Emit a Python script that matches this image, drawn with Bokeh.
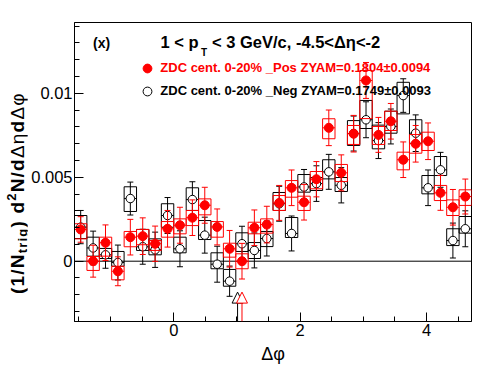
import math
from bokeh.plotting import figure
from bokeh.layouts import row
from bokeh.models import (ColumnDataSource, Span, Label, Legend, LegendItem, FixedTicker,
                          CustomJSTickFormatter, Range1d, Arrow, NormalHead, Div)
from bokeh.embed import file_html
from bokeh.resources import INLINE

# ---------------- data ----------------
dphi = [-1.473, -1.276, -1.080, -0.884, -0.687, -0.491, -0.295, -0.098,
        0.098, 0.295, 0.491, 0.687, 0.884, 1.080, 1.276, 1.473,
        1.669, 1.865, 2.062, 2.258, 2.454, 2.651, 2.847, 3.043,
        3.240, 3.436, 3.632, 3.829, 4.025, 4.222, 4.418, 4.614]

pos_y = [0.00189, 0.00000, 0.00110, -0.00060, 0.00143, 0.00149, 0.00104, 0.00193,
         0.00214, 0.00259, 0.00333, 0.00204, 0.00074, 0.00000, 0.00199, 0.00218,
         0.00347, 0.00437, 0.00351, 0.00488, 0.00794, 0.00526, 0.00759, 0.01076,
         0.00752, 0.00833, 0.00604, 0.00699, 0.00714, 0.00407, 0.00321, 0.00385]
pos_stat = [0.00076, 0.00095, 0.00106, 0.00086, 0.00106, 0.00109, 0.00105, 0.00109,
            0.00107, 0.00106, 0.00107, 0.00107, 0.00109, 0.00106, 0.00106, 0.00109,
            0.00104, 0.00106, 0.00106, 0.00105, 0.00106, 0.00107, 0.00109, 0.00107,
            0.00104, 0.00106, 0.00106, 0.00109, 0.00109, 0.00104, 0.00106, 0.00104]
pos_sys_top = [0.00223, 0.00028, 0.00143, -0.00030, 0.00177, 0.00189, 0.00123, 0.00236,
               0.00252, 0.00302, 0.00371, 0.00236, 0.00107, 0.00044, 0.00232, 0.00252,
               0.00391, 0.00480, 0.00387, 0.00534, 0.00848, 0.00576, 0.00808, 0.01135,
               0.00802, 0.00893, 0.00649, 0.00754, 0.00768, 0.00451, 0.00365, 0.00425]
pos_sys_bot = [0.00133, -0.00055, 0.00030, -0.00111, 0.00086, 0.00098, 0.00064, 0.00143,
               0.00163, 0.00212, 0.00276, 0.00143, 0.00024, -0.00045, 0.00163, 0.00167,
               0.00302, 0.00381, 0.00302, 0.00431, 0.00729, 0.00474, 0.00695, 0.00849,
               0.00695, 0.00778, 0.00544, 0.00643, 0.00659, 0.00361, 0.00272, 0.00332]

neg_y = [0.00203, 0.00079, 0.00038, -0.00008, 0.00373, 0.00086, 0.00068, 0.00272,
         0.00074, 0.00367, 0.00155, -0.00018, -0.00119, 0.00104, 0.00064, 0.00135,
         0.00342, 0.00165, 0.00442, 0.00462, 0.00532, 0.00452, 0.00760, 0.00842,
         0.00718, 0.00802, 0.00986, 0.00762, 0.00437, 0.00544, 0.00123, 0.00193]
neg_stat = [0.00099, 0.00100, 0.00080, 0.00104, 0.00098, 0.00104, 0.00105, 0.00107,
            0.00107, 0.00106, 0.00107, 0.00107, 0.00090, 0.00104, 0.00104, 0.00104,
            0.00104, 0.00104, 0.00104, 0.00106, 0.00104, 0.00105, 0.00104, 0.00107,
            0.00107, 0.00104, 0.00100, 0.00109, 0.00106, 0.00104, 0.00104, 0.00107]
neg_sys_top = [0.00272, 0.00143, 0.00076, 0.00058, 0.00443, 0.00189, 0.00133, 0.00342,
               0.00143, 0.00437, 0.00242, 0.00050, -0.00049, 0.00169, 0.00111, 0.00177,
               0.00409, 0.00260, 0.00516, 0.00498, 0.00604, 0.00498, 0.00837, 0.00957,
               0.00810, 0.00893, 0.01065, 0.00842, 0.00510, 0.00623, 0.00193, 0.00266]
neg_sys_bot = [0.00135, 0.00030, 0.00016, -0.00030, 0.00296, 0.00064, 0.00038, 0.00202,
               0.00050, 0.00302, 0.00129, -0.00045, -0.00149, 0.00058, 0.00016, 0.00087,
               0.00302, 0.00141, 0.00411, 0.00421, 0.00490, 0.00415, 0.00689, 0.00790,
               0.00669, 0.00762, 0.00877, 0.00702, 0.00401, 0.00510, 0.00093, 0.00167]

# ZYAM minimum positions (arrows)
zyam_min_dphi = {"neg": 1.01, "pos": 1.08}
arrow_tip_y = -0.00184

x_ticks = [0, 2, 4]
x_minor = [-1.5, -1.0, -0.5, 0.5, 1.0, 1.5, 2.5, 3.0, 3.5, 4.5]
y_ticks = [0, 0.005, 0.01]
y_minor = [-0.003, -0.002, -0.001, 0.001, 0.002, 0.003, 0.004, 0.006, 0.007,
           0.008, 0.009, 0.011, 0.012, 0.013, 0.014]

pos_label = "ZDC cent. 0-20% _Pos ZYAM=0.1804\u00b10.0094"
neg_label = "ZDC cent. 0-20% _Neg ZYAM=0.1749\u00b10.0093"

# ---------------- layout constants ----------------
W_TOTAL, H_TOTAL = 496, 374
W_YLAB = 27                                   # strip holding the rotated y title
X0, X1 = -math.pi / 2, 3 * math.pi / 2
Y0, Y1 = -0.00359, 0.01421
FL, FT, FW, FH = 74.0, 22.0, 397.0, 299.0     # frame in page pixels
FONT = "Liberation Sans"

def X(px):
    return X0 + (px - FL) * (X1 - X0) / FW

def Y(py):
    return Y1 - (py - FT) * (Y1 - Y0) / FH

# ---------------- main figure ----------------
p = figure(width=W_TOTAL - W_YLAB, height=H_TOTAL, x_range=Range1d(X0, X1), y_range=Range1d(Y0, Y1),
           output_backend="svg", toolbar_location=None,
           min_border_left=int(FL) - W_YLAB, min_border_right=W_TOTAL - int(FL + FW),
           min_border_top=int(FT), min_border_bottom=H_TOTAL - int(FT + FH))
p.background_fill_color = "white"
p.border_fill_color = "white"
p.outline_line_color = "black"
p.outline_line_width = 1
p.outline_line_alpha = 1
p.grid.visible = False

for ax in (p.xaxis[0], p.yaxis[0]):
    ax.axis_line_color = "black"
    ax.major_tick_line_color = "black"
    ax.minor_tick_line_color = "black"
    ax.major_tick_in = 9
    ax.major_tick_out = 0
    ax.minor_tick_in = 5
    ax.minor_tick_out = 0
    ax.major_label_text_font = FONT
    ax.major_label_text_font_size = "16.5px"
    ax.major_label_text_color = "black"
p.xaxis.ticker = FixedTicker(ticks=x_ticks, minor_ticks=x_minor)
p.yaxis.ticker = FixedTicker(ticks=y_ticks, minor_ticks=y_minor)
p.xaxis.major_label_standoff = 2
p.yaxis.major_label_standoff = 2
p.yaxis.formatter = CustomJSTickFormatter(code="return tick == 0 ? '0' : String(+tick.toPrecision(6));")
p.xaxis.formatter = CustomJSTickFormatter(code="return String(tick);")
p.xaxis.axis_label = "\u0394\u03c6"
p.xaxis.axis_label_text_font = FONT
p.xaxis.axis_label_text_font_style = "normal"
p.xaxis.axis_label_text_font_size = "18px"
p.xaxis.axis_label_text_color = "black"
p.xaxis.axis_label_standoff = 5

p.add_layout(Span(location=0, dimension="width", line_color="black", line_width=1, level="underlay"))

BW = (X1 - X0) / len(dphi)

def draw_series(yv, stat, stop, sbot, color, fill, msize):
    src = ColumnDataSource(dict(
        x=dphi, y=yv,
        left=[x - BW / 2 for x in dphi], right=[x + BW / 2 for x in dphi],
        lo=[a - b for a, b in zip(yv, stat)], hi=[a + b for a, b in zip(yv, stat)],
        top=stop, bot=sbot))
    p.quad(left="left", right="right", top="top", bottom="bot", source=src,
           fill_color=None, line_color=color, line_width=1)
    p.segment(x0="left", y0="y", x1="right", y1="y", source=src, line_color=color, line_width=1)
    p.segment(x0="x", y0="lo", x1="x", y1="hi", source=src, line_color=color, line_width=1)
    p.scatter(x="x", y="lo", source=src, marker="dash", size=6, line_color=color, line_width=1)
    p.scatter(x="x", y="hi", source=src, marker="dash", size=6, line_color=color, line_width=1)
    return p.scatter(x="x", y="y", source=src, marker="circle", size=msize,
                     fill_color=fill, line_color=color, line_width=1)

r_neg = draw_series(neg_y, neg_stat, neg_sys_top, neg_sys_bot, "black", "white", 8.5)
r_pos = draw_series(pos_y, pos_stat, pos_sys_top, pos_sys_bot, "red", "red", 9)

for key, col in (("neg", "black"), ("pos", "red")):
    xa = zyam_min_dphi[key]
    p.add_layout(Arrow(end=NormalHead(size=11, fill_color="white", line_color=col, line_width=1),
                       x_start=xa, y_start=Y0, x_end=xa, y_end=arrow_tip_y,
                       line_color=col, line_width=1))

def add_legend(label, rend, color, loc):
    lg = Legend(items=[LegendItem(label=label, renderers=[rend])], location=loc,
                padding=0, margin=0, spacing=0, glyph_width=22, glyph_height=22,
                label_height=22, label_standoff=2, border_line_color=None,
                background_fill_alpha=0, label_text_font=FONT, label_text_font_size="13px",
                label_text_font_style="bold", label_text_color=color)
    p.add_layout(lg)

add_legend(pos_label, r_pos, "red", (62.3, 242.3))
add_legend(neg_label, r_neg, "black", (62.3, 219.3))

def lab(px, py, text, size, style="bold", align="left"):
    p.add_layout(Label(x=X(px), y=Y(py), text=text, text_font=FONT, text_font_size=size,
                       text_font_style=style, text_color="black",
                       text_align=align, text_baseline="alphabetic"))

lab(92.5, 42.5, "(x)", "14px")
lab(160.0, 41.7, "1 < p", "16.5px")
lab(200.5, 51.5, "T", "10px")
lab(211.5, 41.7, "< 3 GeV/c, -4.5<\u0394\u03b7<-2", "16.5px")

# ---------------- strip with the rotated y-axis title (HTML text) ----------------
sub = "font-size:13px;vertical-align:-3px;line-height:0;"
sup = "font-size:13px;vertical-align:8px;line-height:0;"
nrm = "font-weight:normal;"
ytitle_html = (
    "(1/N<span style='%s'>trig</span>) d<span style='%s'>2</span>N/d"
    "<span style='%s'>\u0394\u03b7</span>d<span style='%s'>\u0394\u03c6</span>"
) % (sub, sup, nrm, nrm)
strip_html = (
    "<div style=\"position:relative;width:%dpx;height:%dpx;\">"
    "<div style=\"position:absolute;left:8px;top:294px;transform:rotate(-90deg);"
    "transform-origin:0 0;white-space:nowrap;font-family:'Liberation Sans';font-size:19px;"
    "font-weight:bold;line-height:19px;letter-spacing:1.2px;color:black;\">%s</div></div>"
) % (W_YLAB, H_TOTAL, ytitle_html)
q = Div(text=strip_html, width=W_YLAB, height=H_TOTAL, margin=0)

layout = row(q, p, spacing=0)
open("out.html", "w").write(file_html(layout, INLINE))
